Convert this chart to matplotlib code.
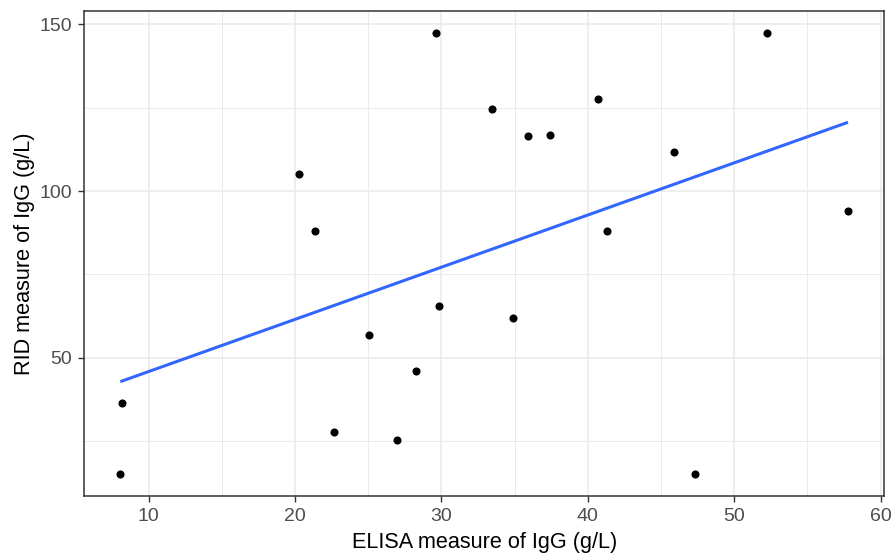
import numpy as np
import matplotlib
matplotlib.use("Agg")
import matplotlib.pyplot as plt
from matplotlib.ticker import MultipleLocator

# ELISA vs RID measurements of IgG (g/L)
elisa = [8.18, 8.06, 20.3, 21.38, 22.68, 25.03, 26.96, 28.29, 29.61, 29.82,
         33.46, 34.9, 35.9, 37.43, 40.67, 41.29, 45.9, 47.3, 52.27, 57.77]
rid = [36.25, 15.1, 105.0, 88.0, 27.7, 56.7, 25.3, 45.95, 147.4, 65.6,
       124.6, 61.95, 116.5, 116.9, 127.6, 88.0, 111.8, 15.1, 147.4, 94.0]

x_ticks = [10, 20, 30, 40, 50, 60]
y_ticks = [50, 100, 150]
x_label = "ELISA measure of IgG (g/L)"
y_label = "RID measure of IgG (g/L)"

x = np.array(elisa)
y = np.array(rid)

plt.rcParams["font.family"] = ["Liberation Sans", "DejaVu Sans"]

fig = plt.figure(figsize=(8.93, 5.59), dpi=100)
ax = fig.add_axes([0.094, 0.1127, 0.8963, 0.8676])

# linear fit
slope, intercept = np.polyfit(x, y, 1)
xs = np.linspace(x.min(), x.max(), 80)
ax.plot(xs, intercept + slope * xs, color="#3366FF", lw=2.2, zorder=3,
        solid_capstyle="butt")

ax.scatter(x, y, s=34, color="black", zorder=4, linewidths=0)

# ggplot-style 5% expansion
xr = x.max() - x.min()
yr = y.max() - y.min()
ax.set_xlim(x.min() - 0.05 * xr, x.max() + 0.05 * xr)
ax.set_ylim(y.min() - 0.05 * yr, y.max() + 0.05 * yr)

ax.set_xticks(x_ticks)
ax.set_yticks(y_ticks)
ax.xaxis.set_minor_locator(MultipleLocator(5))
ax.yaxis.set_minor_locator(MultipleLocator(25))

ax.grid(which="major", color="#EBEBEB", lw=1.2, zorder=0)
ax.grid(which="minor", color="#EBEBEB", lw=0.7, zorder=0)
ax.set_axisbelow(True)

for s in ax.spines.values():
    s.set_color("#333333")
    s.set_linewidth(1.1)

ax.tick_params(which="major", length=4.5, width=1.0, color="#333333",
               labelsize=14, labelcolor="#4D4D4D", pad=4)
ax.tick_params(which="minor", length=0)

ax.set_xlabel(x_label, fontsize=15.6, color="black", labelpad=5)
ax.set_ylabel(y_label, fontsize=15.6, color="black", labelpad=3)

fig.savefig("out.png", dpi=100, facecolor="white")
